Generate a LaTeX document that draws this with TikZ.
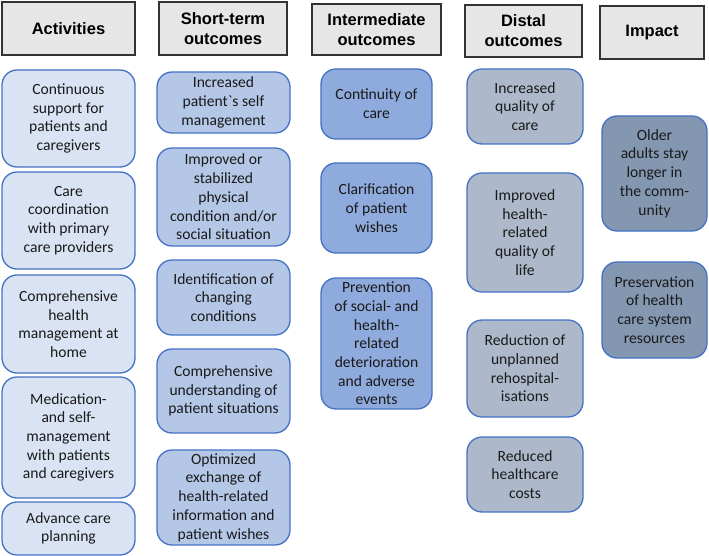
\documentclass[tikz,border=0pt]{standalone}
\usepackage{fontspec}
\setmainfont{Carlito}
\newfontfamily\rawfont{Carlito}
\newfontfamily\hdrfont{Liberation Sans}
\definecolor{actfill}{HTML}{DAE3F3}
\definecolor{shortfill}{HTML}{B4C7E7}
\definecolor{interfill}{HTML}{8FAADC}
\definecolor{distfill}{HTML}{ADB9CA}
\definecolor{impfill}{HTML}{8497B0}
\definecolor{boxline}{HTML}{4472C4}
\definecolor{hdrfill}{HTML}{E7E6E6}
\definecolor{hdrline}{HTML}{333333}
\definecolor{txt}{HTML}{1A1A1A}
\tikzset{
  hdr/.style={draw=hdrline, fill=hdrfill, line width=1.3pt, align=center, inner sep=0pt,
    font=\hdrfont\bfseries\fontsize{16.5}{20}\selectfont, text=black},
  bx/.style={draw=boxline, line width=1.3pt, rounded corners=15pt, align=center, inner sep=0pt,
    font=\fontsize{15.6}{18.7}\selectfont, text=txt},
  act/.style={bx, fill=actfill},
  sht/.style={bx, fill=shortfill},
  itm/.style={bx, fill=interfill},
  dst/.style={bx, fill=distfill},
  imp/.style={bx, fill=impfill},
}
\begin{document}
\begin{tikzpicture}[x=1pt,y=-1pt]
\useasboundingbox (0,0) rectangle (709,556);
% headers
\node[hdr, minimum width=133pt, minimum height=53pt] (hA) at (68.5,28.5) {Activities};
\node[hdr, minimum width=128pt, minimum height=53pt] (hS) at (223,28.5) {Short-term\\outcomes};
\node[hdr, minimum width=129pt, minimum height=51pt] (hI) at (376.5,29.5) {Intermediate\\outcomes};
\node[hdr, minimum width=117pt, minimum height=52pt] (hD) at (523.5,31) {Distal\\outcomes};
\node[hdr, minimum width=104pt, minimum height=53pt] (hM) at (652,32.5) {Impact};
% activities
\node[act, minimum width=133pt, minimum height=97pt] (a1) at (68.5,118.5) {Continuous\\support for\\patients and\\caregivers};
\node[act, minimum width=133pt, minimum height=97pt] (a2) at (68.5,220.5) {Care\\coordination\\with primary\\care providers};
\node[act, minimum width=133pt, minimum height=98pt] (a3) at (68.5,324) {Comprehensive\\health\\management at\\home};
\node[act, minimum width=133pt, minimum height=121pt] (a4) at (68.5,437.5) {Medication-\\and self-\\management\\with patients\\and caregivers};
\node[act, minimum width=133pt, minimum height=53pt] (a5) at (68.5,528.5) {Advance care\\planning};
% short-term
\node[sht, minimum width=133pt, minimum height=61pt] (s1) at (223.5,102.5) {Increased\\patient{\rawfont`}s self\\management};
\node[sht, minimum width=133pt, minimum height=98pt] (s2) at (223.5,197) {Improved or\\stabilized\\physical\\condition and/or\\social situation};
\node[sht, minimum width=133pt, minimum height=75pt] (s3) at (223.5,297.5) {Identification of\\changing\\conditions};
\node[sht, minimum width=133pt, minimum height=84pt] (s4) at (223.5,391) {Comprehensive\\understanding of\\patient situations};
\node[sht, minimum width=133pt, minimum height=95pt] (s5) at (223.5,497.5) {Optimized\\exchange of\\health-related\\information and\\patient wishes};
% intermediate
\node[itm, minimum width=111pt, minimum height=70pt] (i1) at (376.5,104) {Continuity of\\care};
\node[itm, minimum width=111pt, minimum height=90pt] (i2) at (376.5,208) {Clarification\\of patient\\wishes};
\node[itm, minimum width=111pt, minimum height=131pt] (i3) at (376.5,343.5) {Prevention\\of social- and\\health-\\related\\deterioration\\and adverse\\events};
% distal
\node[dst, minimum width=116pt, minimum height=75pt] (d1) at (525,106.5) {Increased\\quality of\\care};
\node[dst, minimum width=116pt, minimum height=119pt] (d2) at (525,232.5) {Improved\\health-\\related\\quality of\\life};
\node[dst, minimum width=116pt, minimum height=97pt] (d3) at (525,368.5) {Reduction of\\unplanned\\rehospital-\\isations};
\node[dst, minimum width=116pt, minimum height=75pt] (d4) at (525,474.5) {Reduced\\healthcare\\costs};
% impact
\node[imp, minimum width=105pt, minimum height=115pt] (m1) at (654.5,173.5) {Older\\adults stay\\longer in\\the comm-\\unity};
\node[imp, minimum width=105pt, minimum height=96pt] (m2) at (654.5,310) {Preservation\\of health\\care system\\resources};
\end{tikzpicture}
\end{document}
